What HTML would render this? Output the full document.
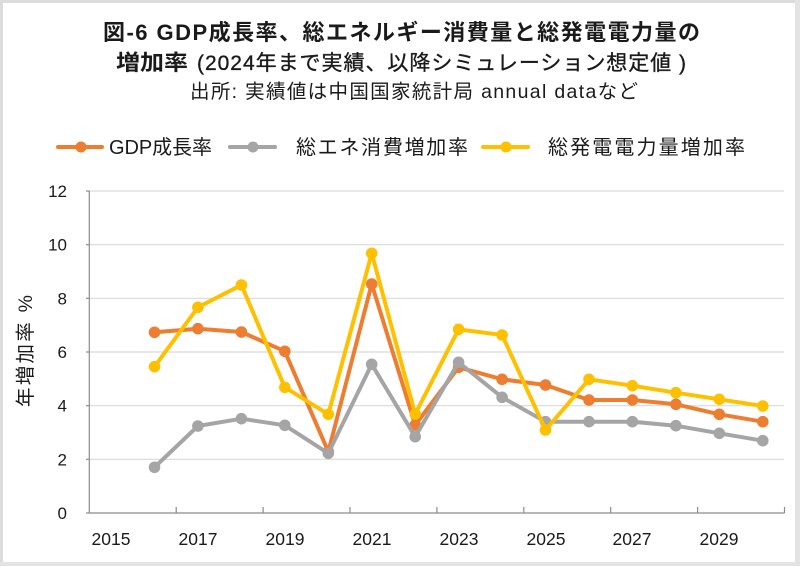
<!DOCTYPE html>
<html><head><meta charset="utf-8"><style>
html,body{margin:0;padding:0;background:#fff;}
svg{display:block;}
text{font-family:"Liberation Sans","Noto Sans CJK JP",sans-serif;fill:#1a1a1a;}
</style></head><body>
<svg width="800" height="566" viewBox="0 0 800 566" xmlns="http://www.w3.org/2000/svg">
<rect x="0" y="0" width="800" height="566" fill="#fff"/>
<rect x="1.5" y="1.5" width="795" height="562" fill="none" stroke="#dcdcdc" stroke-width="3"/>
<rect x="795" y="0" width="5" height="566" fill="#e3e3e3"/>
<rect x="0" y="562" width="800" height="4" fill="#e3e3e3"/>

<!-- Title -->
<text x="103" y="40" font-size="22" font-weight="bold" textLength="597">図-6  GDP成長率、総エネルギー消費量と総発電電力量の</text>
<text x="116" y="70" font-size="21.5" font-weight="bold" textLength="72" lengthAdjust="spacingAndGlyphs">増加率</text>
<text x="197" y="70" font-size="21" textLength="489" stroke="#1a1a1a" stroke-width="0.35">(2024年まで実績、以降シミュレーション想定値 )</text>
<text x="190" y="98" font-size="19.5" textLength="448">出所: 実績値は中国国家統計局 annual dataなど</text>

<!-- Legend -->
<g stroke-width="4" stroke-linecap="round">
<line x1="58" y1="147" x2="102" y2="147" stroke="#ED7D31"/>
<line x1="230" y1="147" x2="275" y2="147" stroke="#A5A5A5"/>
<line x1="483" y1="147" x2="528" y2="147" stroke="#FFC000"/>
</g>
<circle cx="81" cy="147" r="5.5" fill="#ED7D31"/>
<circle cx="253" cy="147" r="5.5" fill="#A5A5A5"/>
<circle cx="506" cy="147" r="5.5" fill="#FFC000"/>
<text x="109" y="154" font-size="20" textLength="103">GDP成長率</text>
<text x="296" y="154" font-size="20" textLength="172">総エネ消費増加率</text>
<text x="548" y="154" font-size="20" textLength="197">総発電電力量増加率</text>

<!-- Gridlines -->
<g stroke="#d9d9d9" stroke-width="1.2">
<line x1="89.3" y1="191" x2="784" y2="191"/>
<line x1="89.3" y1="244.7" x2="784" y2="244.7"/>
<line x1="89.3" y1="298.3" x2="784" y2="298.3"/>
<line x1="89.3" y1="352" x2="784" y2="352"/>
<line x1="89.3" y1="405.7" x2="784" y2="405.7"/>
<line x1="89.3" y1="459.3" x2="784" y2="459.3"/>
</g>

<!-- Axes -->
<g stroke="#8c8c8c" stroke-width="1.2">
<line x1="89.3" y1="191" x2="89.3" y2="513"/>
<line x1="89.3" y1="513" x2="784.5" y2="513"/>
<line x1="86" y1="191" x2="89.3" y2="191"/>
<line x1="86" y1="244.7" x2="89.3" y2="244.7"/>
<line x1="86" y1="298.3" x2="89.3" y2="298.3"/>
<line x1="86" y1="352" x2="89.3" y2="352"/>
<line x1="86" y1="405.7" x2="89.3" y2="405.7"/>
<line x1="86" y1="459.3" x2="89.3" y2="459.3"/>
<line x1="86" y1="513" x2="89.3" y2="513"/>
<line x1="176.2" y1="507" x2="176.2" y2="513"/>
<line x1="263.1" y1="507" x2="263.1" y2="513"/>
<line x1="350" y1="507" x2="350" y2="513"/>
<line x1="436.9" y1="507" x2="436.9" y2="513"/>
<line x1="523.8" y1="507" x2="523.8" y2="513"/>
<line x1="610.7" y1="507" x2="610.7" y2="513"/>
<line x1="697.6" y1="507" x2="697.6" y2="513"/>
<line x1="784.5" y1="507" x2="784.5" y2="513"/>
</g>

<!-- Y labels -->
<g font-size="17" text-anchor="end">
<text x="67" y="197">12</text>
<text x="67" y="250.7">10</text>
<text x="67" y="304.3">8</text>
<text x="67" y="358">6</text>
<text x="67" y="411.7">4</text>
<text x="67" y="465.3">2</text>
<text x="67" y="519">0</text>
</g>

<!-- X labels -->
<g font-size="17.5" text-anchor="middle">
<text x="111" y="545">2015</text>
<text x="198" y="545">2017</text>
<text x="285" y="545">2019</text>
<text x="372" y="545">2021</text>
<text x="459" y="545">2023</text>
<text x="546" y="545">2025</text>
<text x="632" y="545">2027</text>
<text x="719" y="545">2029</text>
</g>

<!-- Y title -->
<text transform="translate(32,351) rotate(-90)" font-size="19.5" text-anchor="middle" textLength="112">年増加率  %</text>

<!-- Series: GDP -->
<g>
<polyline fill="none" stroke="#ED7D31" stroke-width="4" stroke-linejoin="round" points="154.5,332.3 197.9,328.7 241.4,332 284.8,351.3 328.3,451.7 371.7,284 415.2,425 458.6,367.3 502.1,379.3 545.5,385 589,400 632.4,400 675.9,404.3 719.3,414.3 762.8,421.7"/>
<g fill="#ED7D31">
<circle cx="154.5" cy="332.3" r="5.8"/><circle cx="197.9" cy="328.7" r="5.8"/><circle cx="241.4" cy="332" r="5.8"/><circle cx="284.8" cy="351.3" r="5.8"/><circle cx="328.3" cy="451.7" r="5.8"/><circle cx="371.7" cy="284" r="5.8"/><circle cx="415.2" cy="425" r="5.8"/><circle cx="458.6" cy="367.3" r="5.8"/><circle cx="502.1" cy="379.3" r="5.8"/><circle cx="545.5" cy="385" r="5.8"/><circle cx="589" cy="400" r="5.8"/><circle cx="632.4" cy="400" r="5.8"/><circle cx="675.9" cy="404.3" r="5.8"/><circle cx="719.3" cy="414.3" r="5.8"/><circle cx="762.8" cy="421.7" r="5.8"/>
</g>
</g>

<!-- Series: Energy -->
<g>
<polyline fill="none" stroke="#A5A5A5" stroke-width="4" stroke-linejoin="round" points="154.5,467.3 197.9,426 241.4,418.7 284.8,425.3 328.3,453.3 371.7,364.3 415.2,436.7 458.6,362.3 502.1,397.3 545.5,421.7 589,421.7 632.4,421.7 675.9,425.7 719.3,433.3 762.8,440.7"/>
<g fill="#A5A5A5">
<circle cx="154.5" cy="467.3" r="5.8"/><circle cx="197.9" cy="426" r="5.8"/><circle cx="241.4" cy="418.7" r="5.8"/><circle cx="284.8" cy="425.3" r="5.8"/><circle cx="328.3" cy="453.3" r="5.8"/><circle cx="371.7" cy="364.3" r="5.8"/><circle cx="415.2" cy="436.7" r="5.8"/><circle cx="458.6" cy="362.3" r="5.8"/><circle cx="502.1" cy="397.3" r="5.8"/><circle cx="545.5" cy="421.7" r="5.8"/><circle cx="589" cy="421.7" r="5.8"/><circle cx="632.4" cy="421.7" r="5.8"/><circle cx="675.9" cy="425.7" r="5.8"/><circle cx="719.3" cy="433.3" r="5.8"/><circle cx="762.8" cy="440.7" r="5.8"/>
</g>
</g>

<!-- Series: Power -->
<g>
<polyline fill="none" stroke="#FFC000" stroke-width="4" stroke-linejoin="round" points="154.5,366.7 197.9,307.3 241.4,285 284.8,387.3 328.3,414.3 371.7,253.3 415.2,414 458.6,329.3 502.1,335 545.5,430 589,379.3 632.4,385.7 675.9,392.7 719.3,399.3 762.8,406"/>
<g fill="#FFC000">
<circle cx="154.5" cy="366.7" r="5.8"/><circle cx="197.9" cy="307.3" r="5.8"/><circle cx="241.4" cy="285" r="5.8"/><circle cx="284.8" cy="387.3" r="5.8"/><circle cx="328.3" cy="414.3" r="5.8"/><circle cx="371.7" cy="253.3" r="5.8"/><circle cx="415.2" cy="414" r="5.8"/><circle cx="458.6" cy="329.3" r="5.8"/><circle cx="502.1" cy="335" r="5.8"/><circle cx="545.5" cy="430" r="5.8"/><circle cx="589" cy="379.3" r="5.8"/><circle cx="632.4" cy="385.7" r="5.8"/><circle cx="675.9" cy="392.7" r="5.8"/><circle cx="719.3" cy="399.3" r="5.8"/><circle cx="762.8" cy="406" r="5.8"/>
</g>
</g>
</svg>
</body></html>
